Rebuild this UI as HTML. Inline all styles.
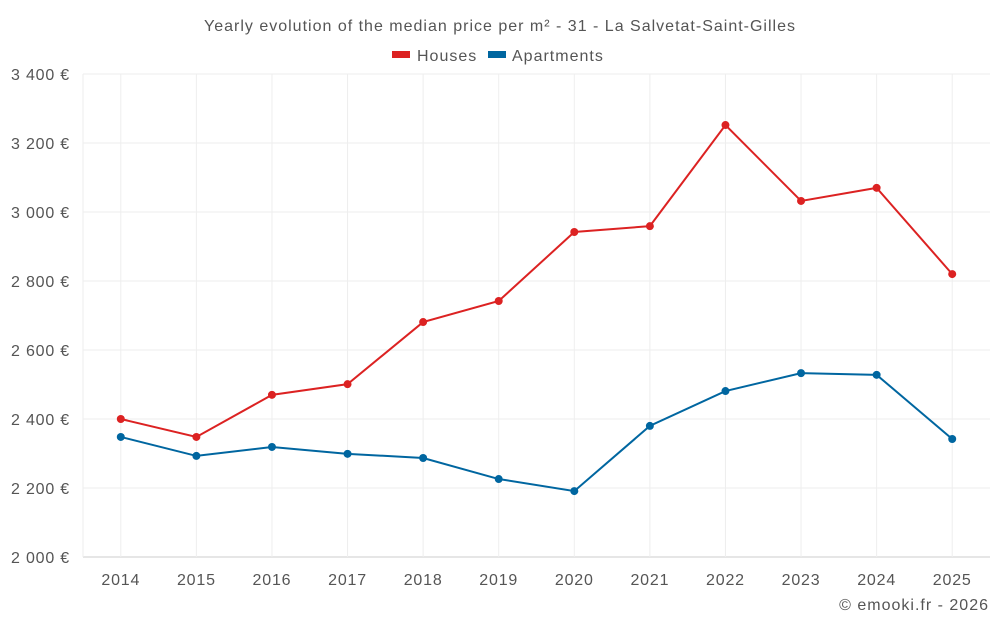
<!DOCTYPE html>
<html><head><meta charset="utf-8"><style>
body{margin:0;background:#fff;font-family:"Liberation Sans",sans-serif;}
svg text{font-family:"Liberation Sans",sans-serif;fill:#555;letter-spacing:1px;}
</style></head><body>
<svg id="c" width="1000" height="625">
<text x="500" y="31" text-anchor="middle" font-size="16">Yearly evolution of the median price per m² - 31 - La Salvetat-Saint-Gilles</text>
<g>
<g><rect x="392" y="51" width="18" height="7" fill="#dc2222"/><text x="417" y="61" font-size="16">Houses</text></g>
<g><rect x="488" y="51" width="18" height="7" fill="#0066a0"/><text x="512" y="61" font-size="16">Apartments</text></g>
</g>
<text x="989" y="610" text-anchor="end" font-size="16">© emooki.fr - 2026</text>
<g id="grid"></g><g id="axes"></g><g id="series"></g>
</svg>
<script>
const years=[2014,2015,2016,2017,2018,2019,2020,2021,2022,2023,2024,2025];
const houses=[2400,2348,2470,2501,2681,2742,2942,2959,3252,3032,3070,2820];
const apartments=[2348,2293,2319,2299,2287,2226,2191,2380,2481,2533,2528,2342];
const yTicks=[2000,2200,2400,2600,2800,3000,3200,3400];
const NS="http://www.w3.org/2000/svg";
const x0=83,x1=990,yTop=74,yBot=557,yMin=2000,yMax=3400;
const step=(x1-x0)/years.length;
const X=i=>x0+step*(i+0.5);
const Y=v=>yBot-(v-yMin)/(yMax-yMin)*(yBot-yTop);
function mk(t,a,p){const e=document.createElementNS(NS,t);for(const k in a)e.setAttribute(k,a[k]);p.appendChild(e);return e;}
const grid=document.getElementById('grid'),axes=document.getElementById('axes'),ser=document.getElementById('series');
yTicks.forEach(v=>{
 const l=mk('line',{x1:x0,x2:x1,y1:Y(v),y2:Y(v),stroke:v===yMin?'#ccc':'#eee'},grid);
 
 
 const t=mk('text',{x:70,y:Y(v)+6,'text-anchor':'end','font-size':16,style:'letter-spacing:0.8px'},axes);
 t.textContent=String(v).replace(/(\d)(\d{3})$/,'$1 $2')+' €';
 
 
});
years.forEach((y,i)=>{
 const l=mk('line',{x1:X(i),x2:X(i),y1:yTop,y2:yBot,stroke:'#eee'},grid);
 
 
 const t=mk('text',{x:X(i),y:585,'text-anchor':'middle','font-size':16,style:'letter-spacing:0.8px'},axes);
 t.textContent=y;
 
 
});
mk('line',{x1:x0,x2:x0,y1:yTop,y2:yBot,stroke:'#eee'},grid);
function draw(vals,color,name){
 const p=mk('polyline',{points:vals.map((v,i)=>X(i)+','+Y(v)).join(' '),fill:'none',stroke:color,'stroke-width':2},ser);
 
 
 vals.forEach((v,i)=>{
  const c=mk('circle',{cx:X(i),cy:Y(v),r:4,fill:color},ser);
  
  
 });
}
draw(houses,'#dc2222','houses');
draw(apartments,'#0066a0','apartments');
</script>
</body></html>
